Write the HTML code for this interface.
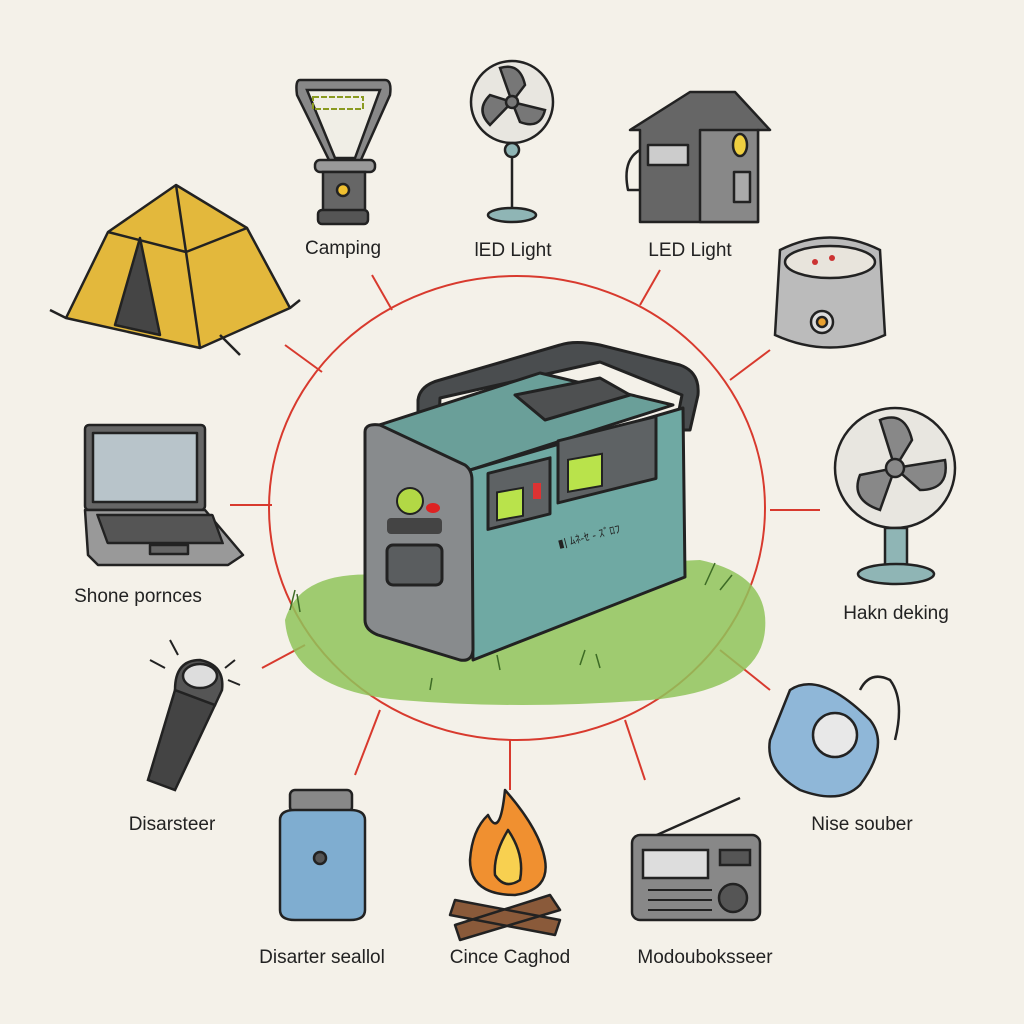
<!DOCTYPE html>
<html><head><meta charset="utf-8"><style>
html,body{margin:0;padding:0;background:#f4f1e9;}
svg{display:block}
text{font-family:"Liberation Sans",sans-serif;font-size:19px;fill:#222;text-anchor:middle;}
</style></head><body>
<svg width="1024" height="1024" viewBox="0 0 1024 1024" xmlns="http://www.w3.org/2000/svg">
<rect width="1024" height="1024" fill="#f4f1e9"/>
<!-- red circle -->
<g stroke="#d83a2e" stroke-width="2" fill="none">
<ellipse cx="517" cy="508" rx="248" ry="232"/>
<line x1="372" y1="275" x2="392" y2="310"/><line x1="660" y1="270" x2="640" y2="305"/>
<line x1="285" y1="345" x2="322" y2="372"/><line x1="770" y1="350" x2="730" y2="380"/>
<line x1="230" y1="505" x2="272" y2="505"/><line x1="770" y1="510" x2="820" y2="510"/>
<line x1="262" y1="668" x2="305" y2="645"/><line x1="720" y1="650" x2="770" y2="690"/>
<line x1="380" y1="710" x2="355" y2="775"/><line x1="510" y1="740" x2="510" y2="790"/>
<line x1="625" y1="720" x2="645" y2="780"/>
</g>
<!-- grass -->
<path d="M285 620 Q300 570 380 575 L700 560 Q770 575 765 630 Q760 690 650 700 Q520 710 400 700 Q290 690 285 620Z" fill="#8fc45a" opacity="0.85"/>
<g stroke="#3d6b25" stroke-width="1.5" fill="none">
<path d="M290 610 l5 -20 M300 612 l-3 -18 M705 585 l10 -22 M720 590 l12 -15 M580 665 l5 -15 M600 668 l-4 -14 M500 670 l-3 -15 M430 690 l2 -12"/>
</g>
<!-- power station -->
<g stroke="#222" stroke-width="3" stroke-linejoin="round">
<path d="M418 445 L418 400 Q420 385 440 380 L560 345 Q575 340 600 345 L680 365 Q700 372 698 395 L690 430 L675 430 L682 395 L600 362 L440 398 L438 445Z" fill="#4a4d4f"/>
<path d="M373 427 L540 373 L673 405 L470 470Z" fill="#6a9f99"/>
<path d="M470 470 L683 408 L685 577 L473 660Z" fill="#6fa9a3"/>
<path d="M365 432 Q365 423 380 425 L465 465 Q472 470 472 480 L473 650 Q472 662 460 660 L378 635 Q365 630 365 620Z" fill="#888b8d"/>
<path d="M515 395 L600 378 L630 395 L545 420Z" fill="#4e5051"/>
<rect x="488" y="470" width="62" height="56" fill="#5e6264" transform="skewY(-14) translate(0,125)"/>
<rect x="558" y="440" width="98" height="62" fill="#5e6264" transform="skewY(-14) translate(0,140)"/>
<rect x="387" y="545" width="55" height="40" rx="6" fill="#5a5d5f"/>
</g>
<rect x="497" y="492" width="26" height="28" fill="#b9e34b" stroke="#222" stroke-width="2" transform="skewY(-10) translate(0,88)"/>
<rect x="568" y="465" width="34" height="32" fill="#b9e34b" stroke="#222" stroke-width="2" transform="skewY(-10) translate(0,95)"/>
<rect x="533" y="483" width="8" height="16" fill="#d33"/>
<circle cx="410" cy="501" r="13" fill="#b2d845" stroke="#222" stroke-width="2"/>
<ellipse cx="433" cy="508" rx="7" ry="5" fill="#d22"/>
<rect x="387" y="518" width="55" height="16" rx="4" fill="#444"/>
<text x="590" y="540" style="font-size:11px" transform="rotate(-14 590 540)">▮| ﾑﾈ-ｾ - ｽﾞﾛﾌ</text>
<!-- tent -->
<g stroke="#222" stroke-width="2.5" stroke-linejoin="round">
<path d="M66 318 L108 232 L176 185 L247 228 L290 308 L200 348Z" fill="#e3b83c"/>
<path d="M108 232 L186 252 L247 228 M176 185 L186 252 L200 348" fill="none"/>
<path d="M140 238 L115 325 L160 335Z" fill="#454545"/>
<path d="M50 310 L66 318 M290 308 L300 300 M220 335 L240 355" fill="none"/>
</g>
<!-- lantern -->
<g stroke="#222" stroke-width="2.5">
<path d="M300 80 L385 80 Q392 80 390 95 L360 162 L330 162 L297 95 Q295 80 300 80Z" fill="#888"/>
<path d="M307 90 L380 90 L355 158 L335 158Z" fill="#f0eee6"/>
<rect x="315" y="160" width="60" height="12" rx="5" fill="#999"/>
<rect x="323" y="172" width="42" height="40" fill="#666"/>
<circle cx="343" cy="190" r="6" fill="#f0c030"/>
<rect x="318" y="210" width="50" height="14" rx="4" fill="#555"/>
</g>
<rect x="313" y="97" width="50" height="12" fill="none" stroke="#8a9a20" stroke-width="2" stroke-dasharray="6 2"/>
<!-- fan top -->
<g stroke="#222" stroke-width="2.5">
<circle cx="512" cy="102" r="41" fill="#e8e6e0"/>
<path d="M512 102 L500 68 Q520 62 525 85Z M512 102 L545 110 Q540 130 520 122Z M512 102 L490 125 Q475 110 490 95Z" fill="#777"/>
<circle cx="512" cy="102" r="6" fill="#777"/>
<line x1="512" y1="143" x2="512" y2="210"/>
<ellipse cx="512" cy="215" rx="24" ry="7" fill="#8fb5b5"/>
<circle cx="512" cy="150" r="7" fill="#8fb5b5"/>
</g>
<!-- house -->
<g stroke="#222" stroke-width="2.5" stroke-linejoin="round">
<path d="M630 130 L690 92 L735 92 L770 130 L758 130 L758 222 L640 222 L640 130Z" fill="#666"/>
<rect x="700" y="130" width="58" height="92" fill="#888"/>
<rect x="648" y="145" width="40" height="20" fill="#ccc"/>
<ellipse cx="740" cy="145" rx="7" ry="11" fill="#f0d040"/>
<rect x="734" y="172" width="16" height="30" fill="#aaa"/>
<path d="M640 150 Q622 160 628 190 L640 190" fill="none"/>
</g>
<!-- rice cooker -->
<g stroke="#222" stroke-width="2.5">
<path d="M780 250 Q830 225 880 250 L885 335 Q830 360 775 335Z" fill="#bbb"/>
<ellipse cx="830" cy="262" rx="45" ry="16" fill="#e8e4dc"/>
<circle cx="822" cy="322" r="11" fill="#ddd"/><circle cx="822" cy="322" r="5" fill="#e8a030"/>
</g>
<circle cx="815" cy="262" r="3" fill="#c33"/><circle cx="832" cy="258" r="3" fill="#c33"/>
<!-- laptop -->
<g stroke="#222" stroke-width="2.5" stroke-linejoin="round">
<rect x="85" y="425" width="120" height="85" rx="4" fill="#666"/>
<rect x="93" y="433" width="104" height="69" fill="#b8c4ca"/>
<path d="M85 510 L205 510 L243 555 L228 565 L98 565 L88 555Z" fill="#999"/>
<rect x="100" y="515" width="115" height="28" fill="#555" transform="skewX(20) translate(-190,0)"/>
<rect x="150" y="545" width="38" height="9" fill="#666"/>
</g>
<!-- desk fan -->
<g stroke="#222" stroke-width="2.5">
<circle cx="895" cy="468" r="60" fill="#e8e6e0"/>
<path d="M895 468 L880 420 Q905 410 912 440Z M895 468 L945 460 Q950 490 920 490Z M895 468 L880 510 Q850 500 860 475Z" fill="#888"/>
<circle cx="895" cy="468" r="9" fill="#888"/>
<rect x="885" y="528" width="22" height="40" fill="#8fb5b5"/>
<ellipse cx="896" cy="574" rx="38" ry="10" fill="#8fb5b5"/>
</g>
<!-- flashlight -->
<g stroke="#222" stroke-width="2.5">
<path d="M175 690 L215 705 L175 790 L148 780Z" fill="#444"/>
<path d="M175 690 Q175 660 200 660 Q225 665 222 690 L215 705Z" fill="#555"/>
<ellipse cx="200" cy="676" rx="17" ry="12" fill="#ddd"/>
</g>
<path d="M150 660 L165 668 M170 640 L178 655 M235 660 L225 668 M240 685 L228 680" stroke="#222" stroke-width="2"/>
<!-- first aid -->
<g stroke="#222" stroke-width="2.5">
<path d="M790 690 Q820 670 870 720 Q890 745 860 785 Q840 805 800 790 Q765 770 770 740Z" fill="#8fb7d8"/>
<circle cx="835" cy="735" r="22" fill="#e8e8e8"/>
<path d="M860 690 Q870 670 890 680 Q905 700 895 740" fill="none"/>
</g>
<!-- jar -->
<g stroke="#222" stroke-width="2.5">
<rect x="290" y="790" width="62" height="22" rx="5" fill="#888"/>
<path d="M280 820 Q280 810 295 810 L350 810 Q365 810 365 820 L365 910 Q365 920 350 920 L295 920 Q280 920 280 910Z" fill="#7fadd0"/>
<circle cx="320" cy="858" r="6" fill="#555"/>
</g>
<!-- campfire -->
<g stroke="#222" stroke-width="2.5" stroke-linejoin="round">
<path d="M505 790 Q540 830 545 860 Q550 890 515 895 Q470 895 470 860 Q472 830 488 815 Q500 840 505 790Z" fill="#f09030"/>
<path d="M508 830 Q525 855 520 880 Q505 890 495 875 Q493 855 508 830Z" fill="#f8d050"/>
<path d="M455 900 L560 920 L555 935 L450 915Z M455 925 L550 895 L560 910 L460 940Z" fill="#8a5a3a"/>
</g>
<!-- radio -->
<g stroke="#222" stroke-width="2.5">
<line x1="650" y1="838" x2="740" y2="798"/>
<rect x="632" y="835" width="128" height="85" rx="8" fill="#888"/>
<rect x="643" y="850" width="65" height="28" fill="#ddd"/>
<circle cx="733" cy="898" r="14" fill="#555"/>
<rect x="720" y="850" width="30" height="15" fill="#555"/>
</g>
<path d="M648 890 L712 890 M648 900 L712 900 M648 910 L712 910" stroke="#222" stroke-width="2"/>
<!-- labels -->
<text x="343" y="254">Camping</text>
<text x="513" y="256">lED Light</text>
<text x="690" y="256">LED Light</text>
<text x="138" y="602">Shone pornces</text>
<text x="896" y="619">Hakn deking</text>
<text x="172" y="830">Disarsteer</text>
<text x="862" y="830">Nise souber</text>
<text x="322" y="963">Disarter seallol</text>
<text x="510" y="963">Cince Caghod</text>
<text x="705" y="963">Modouboksseer</text>
</svg>
</body></html>
